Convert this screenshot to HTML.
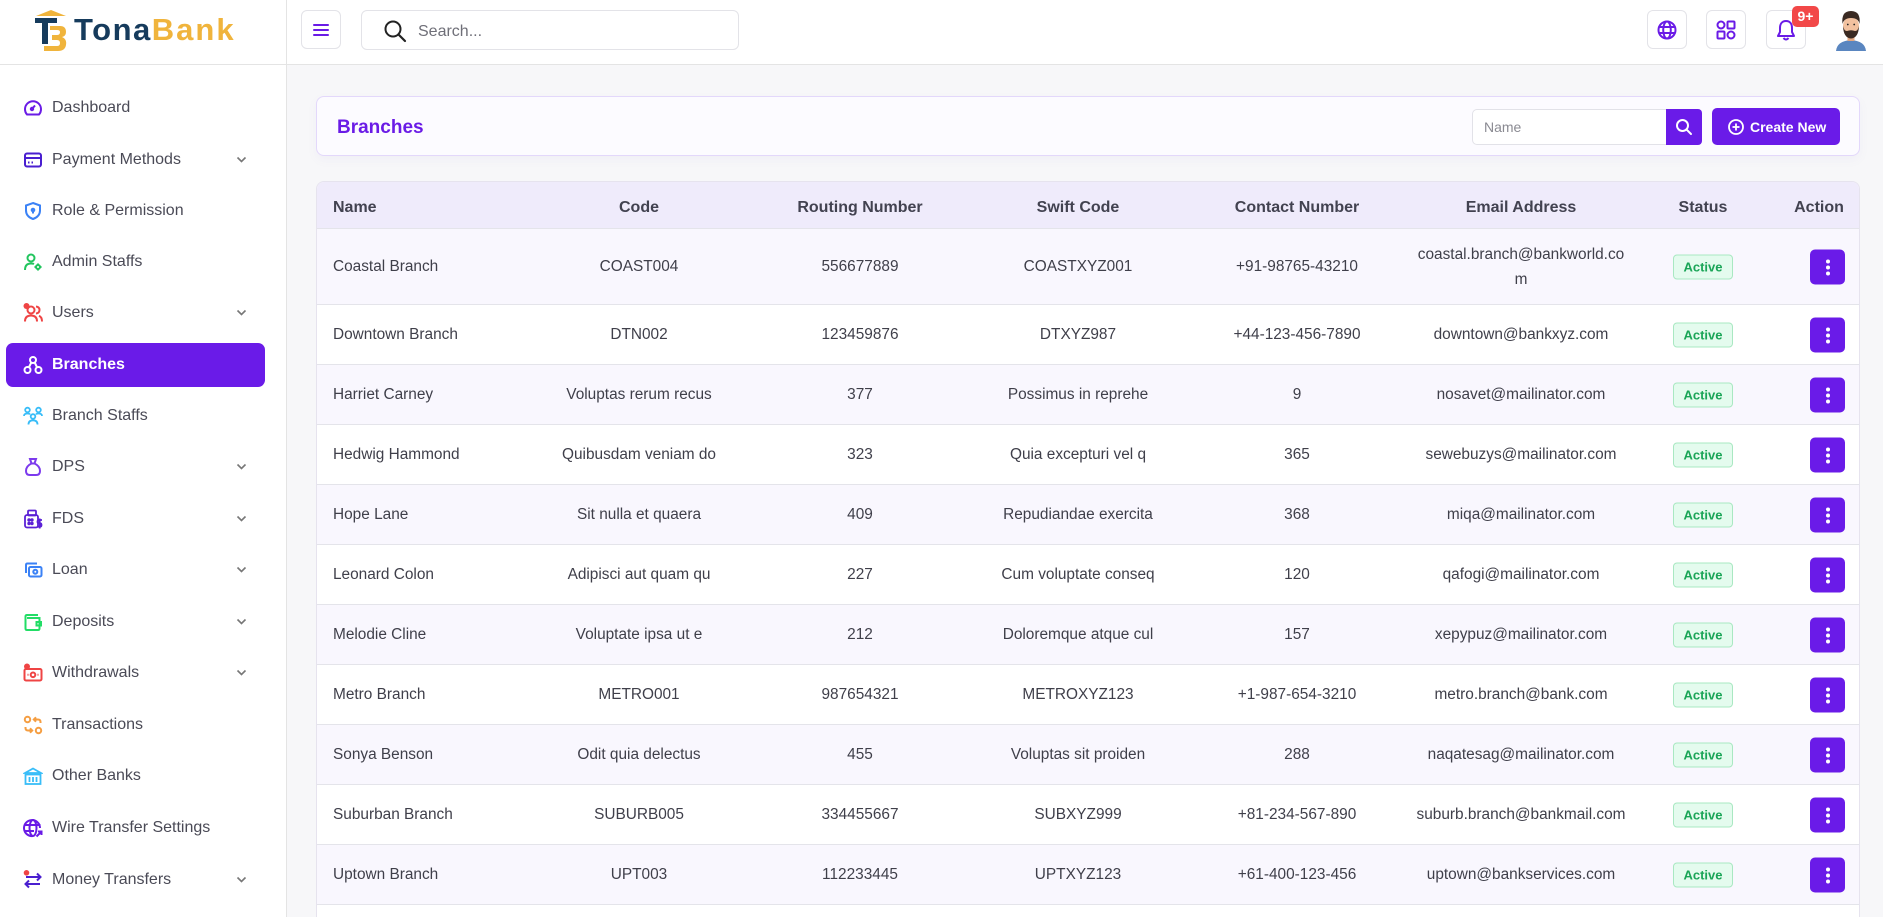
<!DOCTYPE html>
<html><head><meta charset="utf-8">
<style>
*{box-sizing:border-box;margin:0;padding:0}
html{width:1883px;height:917px;overflow:hidden}
body{width:1883px;height:917px;overflow:hidden;position:relative;background:#f7f7f9;font-family:"Liberation Sans",sans-serif;color:#444}
.hdr{position:absolute;left:0;top:0;width:1883px;height:65px;background:#fff;border-bottom:1px solid #e4e4e4;z-index:2}
.side{position:absolute;left:0;top:65px;width:286px;height:852px;background:#fff;z-index:1}
.vline{position:absolute;left:286px;top:0;width:1px;height:917px;background:#e4e4e4;z-index:3}
.ibtn{position:absolute;top:10px;width:40px;height:39px;border:1px solid #e3e3e8;border-radius:6px;background:#fff;display:flex;align-items:center;justify-content:center}
.search{position:absolute;left:361px;top:10px;width:378px;height:40px;border:1px solid #e3e3e8;border-radius:6px;background:#fff}
.search span{position:absolute;left:56px;top:12px;font-size:16px;color:#6f6f78}
.item{position:absolute;left:6px;width:259px;height:44px;display:flex;align-items:center;padding-left:17px;font-size:16px;color:#4a4a56;border-radius:7px}
.item svg{width:20px;height:20px;margin-right:9px;flex:none}
.item .chev{position:absolute;left:230px;top:18px;width:11px;height:8px;margin:0}
.item.act{background:#6a1be8;color:#fff;font-weight:bold}
.card1{position:absolute;left:316px;top:96px;width:1544px;height:60px;border:1px solid #e3d8fb;border-radius:8px;background:#fcfbff;box-shadow:0 4px 10px rgba(120,90,200,0.05)}
.card1 h2{position:absolute;left:20px;top:20px;font-size:19px;color:#6a1be6;font-weight:bold}
.nameinp{position:absolute;left:1155px;top:12px;width:195px;height:36px;border:1px solid #e2e2e8;border-radius:5px 0 0 5px;background:#fff}
.nameinp span{position:absolute;left:11px;top:9px;font-size:14px;color:#8a8a92}
.sbtn{position:absolute;left:1349px;top:12px;width:36px;height:36px;background:#6a1be8;border-radius:0 4px 4px 0;display:flex;align-items:center;justify-content:center}
.cbtn{position:absolute;left:1395px;top:11px;width:128px;height:37px;background:#6a1be8;border-radius:5px;color:#fff;font-size:14px;font-weight:bold;display:flex;align-items:center;padding-left:16px}
.cbtn svg{margin-right:6px}
.tbl{position:absolute;left:316px;top:181px;width:1544px;height:736px;border:1px solid #e6e3ee;border-bottom:0;border-radius:8px 8px 0 0;background:#fff;overflow:hidden}
.row{position:relative;width:100%;height:60px;border-bottom:1px solid #e4e4ea;background:#fff}
.row.alt{background:#f9f7fe}
.row.th{height:47px;background:#efebfb;font-weight:bold;font-size:16px;color:#424250}
.row.r1{height:76px}
.c{position:absolute;top:50%;transform:translate(-50%,-50%);white-space:nowrap;font-size:15.4px;color:#3f3f4a;text-align:center}
.th .c{font-size:16px;color:#424250;margin-top:3px}
.n{position:absolute;left:16px;top:50%;transform:translateY(-50%);white-space:nowrap;font-size:15.4px;color:#3f3f4a}
.th .n{font-size:16px;color:#424250;margin-top:3px}
.b{position:absolute;left:1356px;top:50%;transform:translateY(-50%);width:60px;height:25px;border:1px solid #a9e8c2;background:#e4fbee;border-radius:4px;color:#1aa557;font-size:13px;font-weight:bold;text-align:center;line-height:23px}
.a{position:absolute;left:1493px;top:50%;transform:translateY(-50%);width:35px;height:35px;background:#6a1be8;border-radius:5px}
.a i{position:absolute;left:15.5px;width:4px;height:4px;border-radius:50%;background:#fff}
</style></head><body>

<div class="hdr">
  <svg style="position:absolute;left:32px;top:9px" width="38" height="44" viewBox="0 0 38 44">
    <path d="M4 7 L19 1 L34 7 Z" fill="#f0b43c"/>
    <rect x="3" y="9" width="22" height="5" fill="#163b5c"/>
    <rect x="10" y="9" width="6" height="26" fill="#163b5c"/>
    <path d="M18 17 H28 Q34 17 34 23 Q34 27 30 28 Q35 30 34 36 Q33 42 26 42 H12 V37 H25 Q28 37 28 34 Q28 31 25 31 H20 V26 H25 Q28 26 28 23 Q28 21 25 21 H18 Z" fill="#f0b43c"/>
  </svg>
  <div style="position:absolute;left:74px;top:12px;font-size:31px;font-weight:bold;line-height:36px;white-space:nowrap"><span style="color:#163b5c;letter-spacing:1.5px">Tona</span><span style="color:#f0b43c;letter-spacing:2px">Bank</span></div>

  <div class="ibtn" style="left:301px">
    <svg width="18" height="16" viewBox="0 0 18 16"><rect x="1" y="2" width="16" height="2" rx="1" fill="#6a1be6"/><rect x="1" y="7" width="16" height="2" rx="1" fill="#6a1be6"/><rect x="1" y="12" width="16" height="2" rx="1" fill="#6a1be6"/></svg>
  </div>
  <div class="search">
    <svg style="position:absolute;left:21px;top:8px" width="24" height="24" viewBox="0 0 24 24"><circle cx="10" cy="10" r="7.5" fill="none" stroke="#222" stroke-width="2"/><line x1="15.5" y1="15.5" x2="22" y2="22" stroke="#222" stroke-width="2.2" stroke-linecap="round"/></svg>
    <span>Search...</span>
  </div>

  <div class="ibtn" style="left:1647px">
    <svg width="20" height="20" viewBox="0 0 20 20" fill="none" stroke="#6a1be6" stroke-width="2"><circle cx="10" cy="10" r="8.5"/><ellipse cx="10" cy="10" rx="3.8" ry="8.5"/><line x1="1.5" y1="7" x2="18.5" y2="7"/><line x1="1.5" y1="13" x2="18.5" y2="13"/></svg>
  </div>
  <div class="ibtn" style="left:1706px">
    <svg width="20" height="20" viewBox="0 0 20 20" fill="none" stroke="#6a1be6" stroke-width="2"><circle cx="5" cy="5" r="3.5"/><rect x="11.5" y="1.5" width="7" height="7" rx="1"/><rect x="1.5" y="11.5" width="7" height="7" rx="1"/><circle cx="15" cy="15" r="3.5"/></svg>
  </div>
  <div class="ibtn" style="left:1766px">
    <svg width="20" height="22" viewBox="0 0 20 22" fill="none" stroke="#6a1be6" stroke-width="2" stroke-linejoin="round"><path d="M10 2 C5.5 2 4 5.5 4 9 V13 L2 17 H18 L16 13 V9 C16 5.5 14.5 2 10 2 Z"/><path d="M7.5 19 Q10 22 12.5 19"/></svg>
  </div>
  <div style="position:absolute;left:1792px;top:6px;width:27px;height:21px;background:#f24848;border-radius:5px;color:#fff;font-size:14px;font-weight:bold;text-align:center;line-height:21px">9+</div>
  <svg style="position:absolute;left:1834px;top:9px" width="34" height="42" viewBox="0 0 34 42">
    <path d="M2 42 Q3 32 17 31 Q31 32 32 42 Z" fill="#5a86c0"/>
    <rect x="13.5" y="24" width="7" height="8" fill="#e2a883"/>
    <ellipse cx="17" cy="17" rx="8" ry="9.5" fill="#f2c19f"/>
    <path d="M9 17 Q9.5 29 17 29.5 Q24.5 29 25 17 Q24 22 21 22 Q17 20.5 13 22 Q10 22 9 17 Z" fill="#3a2a22"/>
    <path d="M8.5 15 Q7 2 17 2 Q27 2 25.5 15 Q24.5 9 17 9 Q10 9 8.5 15 Z" fill="#3a2a22"/>
    <circle cx="13.8" cy="15.5" r="0.9" fill="#222"/><circle cx="20.2" cy="15.5" r="0.9" fill="#222"/>
  </svg>
</div>

<div class="vline"></div>

<div class="side">
  <div class="item" style="top:21px"><svg viewBox="0 0 20 20" fill="none" stroke="#6a1be6" stroke-width="2"><path d="M4 16.5 A8 8 0 1 1 16 16.5 Z"/><line x1="8.5" y1="11.5" x2="12" y2="7.5"/><circle cx="9" cy="11" r="1.2" fill="#6a1be6"/></svg>Dashboard</div>
  <div class="item" style="top:73px"><svg viewBox="0 0 20 20" fill="none" stroke="#4a1fd0" stroke-width="2"><rect x="2" y="3.5" width="16" height="13" rx="2"/><line x1="2" y1="8" x2="18" y2="8"/><line x1="5" y1="12.5" x2="6.5" y2="12.5"/><line x1="8.5" y1="12.5" x2="10" y2="12.5"/></svg>Payment Methods<svg class="chev" viewBox="0 0 11 8"><polyline points="1.5,1.5 5.5,5.5 9.5,1.5" fill="none" stroke="#777" stroke-width="1.6"/></svg></div>
  <div class="item" style="top:124px"><svg viewBox="0 0 20 20" fill="none" stroke="#3b82f6" stroke-width="2"><path d="M10 2 L17 4.5 V9.5 Q17 15.5 10 18 Q3 15.5 3 9.5 V4.5 Z"/><circle cx="10" cy="9" r="1.3" fill="#3b82f6"/><line x1="10" y1="10" x2="10" y2="12.5"/></svg>Role &amp; Permission</div>
  <div class="item" style="top:175px"><svg viewBox="0 0 20 20" fill="none" stroke="#22c55e" stroke-width="2"><circle cx="8" cy="6" r="3.5"/><path d="M2 18 Q2 11.5 8 11.5 Q10 11.5 11 12"/><circle cx="15" cy="15" r="2"/><path d="M15 11.5 V12.5 M15 17.5 V18.5 M11.5 15 H12.5 M17.5 15 H18.5"/></svg>Admin Staffs</div>
  <div class="item" style="top:226px"><svg viewBox="0 0 20 20" fill="none" stroke="#ef4444" stroke-width="2"><circle cx="8" cy="7" r="3.5"/><path d="M2 18.5 Q2 12.5 8 12.5 Q14 12.5 14 18.5"/><path d="M13 3.5 Q16.5 4 16.5 7 Q16.5 10 13 10.5"/><path d="M16 12.8 Q19 14 19 18.5"/><circle cx="3.5" cy="3" r="3" fill="#ef4444" stroke="none"/></svg>Users<svg class="chev" viewBox="0 0 11 8"><polyline points="1.5,1.5 5.5,5.5 9.5,1.5" fill="none" stroke="#777" stroke-width="1.6"/></svg></div>
  <div class="item act" style="top:278px"><svg viewBox="0 0 20 20" fill="none" stroke="#fff" stroke-width="2"><circle cx="10" cy="5" r="3"/><circle cx="4.5" cy="15" r="3"/><circle cx="15.5" cy="15" r="3"/><line x1="8.3" y1="7.5" x2="6" y2="12.2"/><line x1="11.7" y1="7.5" x2="14" y2="12.2"/></svg>Branches</div>
  <div class="item" style="top:329px"><svg viewBox="0 0 20 20" fill="none" stroke="#38bdf8" stroke-width="1.8"><circle cx="4.5" cy="4" r="2.3"/><circle cx="15.5" cy="4" r="2.3"/><circle cx="10" cy="10.5" r="2.3"/><path d="M1 10 Q1 7.5 4.5 7.5 Q6.5 7.5 7 8.5 M19 10 Q19 7.5 15.5 7.5 Q13.5 7.5 13 8.5 M5.5 18.5 Q5.5 14.3 10 14.3 Q14.5 14.3 14.5 18.5"/></svg>Branch Staffs</div>
  <div class="item" style="top:380px"><svg viewBox="0 0 20 20" fill="none" stroke="#7c3aed" stroke-width="2"><path d="M7 2 H13 L11.5 6.5 H8.5 Z"/><path d="M8.5 6.5 Q3 9 3 14 Q3 18 7 18 H13 Q17 18 17 14 Q17 9 11.5 6.5"/></svg>DPS<svg class="chev" viewBox="0 0 11 8"><polyline points="1.5,1.5 5.5,5.5 9.5,1.5" fill="none" stroke="#777" stroke-width="1.6"/></svg></div>
  <div class="item" style="top:432px"><svg viewBox="0 0 20 20" fill="none" stroke="#5b21d6" stroke-width="1.8"><rect x="5" y="1.5" width="8" height="5" rx="1"/><rect x="2" y="6" width="13" height="12.5" rx="2"/><circle cx="6" cy="11" r="0.8" fill="#5b21d6"/><circle cx="9" cy="11" r="0.8" fill="#5b21d6"/><circle cx="6" cy="14.5" r="0.8" fill="#5b21d6"/><circle cx="9" cy="14.5" r="0.8" fill="#5b21d6"/><path d="M19 11 H16 Q14.5 11 14.5 12.8 Q14.5 14.3 16 14.3 H17 Q18.5 14.3 18.5 16 Q18.5 17.7 17 17.7 H14.5 M16.7 9.5 V19.5"/></svg>FDS<svg class="chev" viewBox="0 0 11 8"><polyline points="1.5,1.5 5.5,5.5 9.5,1.5" fill="none" stroke="#777" stroke-width="1.6"/></svg></div>
  <div class="item" style="top:483px"><svg viewBox="0 0 20 20" fill="none" stroke="#3b82f6" stroke-width="2"><path d="M3 13 V5 Q3 3.5 4.5 3.5 H14"/><rect x="6" y="7" width="12.5" height="9.5" rx="1.5"/><circle cx="12.3" cy="11.8" r="2"/></svg>Loan<svg class="chev" viewBox="0 0 11 8"><polyline points="1.5,1.5 5.5,5.5 9.5,1.5" fill="none" stroke="#777" stroke-width="1.6"/></svg></div>
  <div class="item" style="top:535px"><svg viewBox="0 0 20 20" fill="none" stroke="#22dd66" stroke-width="2"><path d="M15 3 H4 Q2.5 3 2.5 4.5 V16.5 Q2.5 18 4 18 H15 Q16.5 18 16.5 16.5 V6 H4"/><path d="M18 10 H13.5 V13.5 H18 Z"/></svg>Deposits<svg class="chev" viewBox="0 0 11 8"><polyline points="1.5,1.5 5.5,5.5 9.5,1.5" fill="none" stroke="#777" stroke-width="1.6"/></svg></div>
  <div class="item" style="top:586px"><svg viewBox="0 0 20 20" fill="none" stroke="#ef4444" stroke-width="2"><rect x="1.5" y="6" width="17" height="11.5" rx="1.5"/><circle cx="10" cy="11.8" r="2.3"/><line x1="4.5" y1="11.8" x2="5.5" y2="11.8"/><line x1="14.5" y1="11.8" x2="15.5" y2="11.8"/><circle cx="4" cy="3.5" r="3" fill="#ef4444" stroke="none"/></svg>Withdrawals<svg class="chev" viewBox="0 0 11 8"><polyline points="1.5,1.5 5.5,5.5 9.5,1.5" fill="none" stroke="#777" stroke-width="1.6"/></svg></div>
  <div class="item" style="top:638px"><svg viewBox="0 0 20 20" fill="none" stroke="#f59e42" stroke-width="2"><circle cx="4.5" cy="4.5" r="2.7"/><circle cx="15.5" cy="15.5" r="2.7"/><path d="M17.5 8 V7 Q17.5 4.5 15 4.5 H11 M13 2.3 L10.8 4.5 L13 6.7"/><path d="M2.5 12 V13 Q2.5 15.5 5 15.5 H9 M7 13.3 L9.2 15.5 L7 17.7"/></svg>Transactions</div>
  <div class="item" style="top:689px"><svg viewBox="0 0 20 20" fill="none" stroke="#38bdf8" stroke-width="1.8"><path d="M2 7 L10 2.5 L18 7 Z"/><rect x="2.5" y="8.5" width="15" height="9.5"/><line x1="6.5" y1="11" x2="6.5" y2="16"/><line x1="10" y1="11" x2="10" y2="16"/><line x1="13.5" y1="11" x2="13.5" y2="16"/></svg>Other Banks</div>
  <div class="item" style="top:741px"><svg viewBox="0 0 20 20" fill="none" stroke="#6a1be6" stroke-width="2"><path d="M17 10 A8 8 0 1 0 10 18"/><ellipse cx="10" cy="10" rx="3.5" ry="8"/><line x1="2" y1="7" x2="17.5" y2="7"/><line x1="2" y1="13" x2="11" y2="13"/><path d="M13.5 18.5 L18.5 13.5 M15 13.5 H18.5 V17"/></svg>Wire Transfer Settings</div>
  <div class="item" style="top:793px"><svg viewBox="0 0 20 20" fill="none" stroke="#4a1fd0" stroke-width="2"><path d="M3 7 H17.5 M14 3.5 L17.5 7 L14 10.5"/><path d="M17 14 H2.5 M6 10.5 L2.5 14 L6 17.5"/><circle cx="3.5" cy="2.8" r="2.8" fill="#ef4444" stroke="none"/></svg>Money Transfers<svg class="chev" viewBox="0 0 11 8"><polyline points="1.5,1.5 5.5,5.5 9.5,1.5" fill="none" stroke="#777" stroke-width="1.6"/></svg></div>
</div>

<div class="card1">
  <h2>Branches</h2>
  <div class="nameinp"><span>Name</span></div>
  <div class="sbtn"><svg width="18" height="18" viewBox="0 0 18 18" fill="none" stroke="#fff" stroke-width="2"><circle cx="7.5" cy="7.5" r="5.5"/><line x1="11.7" y1="11.7" x2="16" y2="16" stroke-linecap="round"/></svg></div>
  <div class="cbtn"><svg width="16" height="16" viewBox="0 0 16 16" fill="none" stroke="#fff" stroke-width="1.8"><circle cx="8" cy="8" r="7"/><line x1="8" y1="4.5" x2="8" y2="11.5"/><line x1="4.5" y1="8" x2="11.5" y2="8"/></svg>Create New</div>
</div>

<div class="tbl">
  <div class="row th"><span class="n">Name</span><span class="c" style="left:322px">Code</span><span class="c" style="left:543px">Routing Number</span><span class="c" style="left:761px">Swift Code</span><span class="c" style="left:980px">Contact Number</span><span class="c" style="left:1204px">Email Address</span><span class="c" style="left:1386px">Status</span><span class="c" style="left:1502px">Action</span></div>

  <div class="row r1 alt"><span class="n">Coastal Branch</span><span class="c" style="left:322px">COAST004</span><span class="c" style="left:543px">556677889</span><span class="c" style="left:761px">COASTXYZ001</span><span class="c" style="left:980px">+91-98765-43210</span><span class="c" style="left:1204px;line-height:25px">coastal.branch@bankworld.co<br>m</span><span class="b">Active</span><span class="a"><i style="top:10px"></i><i style="top:16px"></i><i style="top:22px"></i></span></div>

  <div class="row"><span class="n">Downtown Branch</span><span class="c" style="left:322px">DTN002</span><span class="c" style="left:543px">123459876</span><span class="c" style="left:761px">DTXYZ987</span><span class="c" style="left:980px">+44-123-456-7890</span><span class="c" style="left:1204px">downtown@bankxyz.com</span><span class="b">Active</span><span class="a"><i style="top:10px"></i><i style="top:16px"></i><i style="top:22px"></i></span></div>

  <div class="row alt"><span class="n">Harriet Carney</span><span class="c" style="left:322px">Voluptas rerum recus</span><span class="c" style="left:543px">377</span><span class="c" style="left:761px">Possimus in reprehe</span><span class="c" style="left:980px">9</span><span class="c" style="left:1204px">nosavet@mailinator.com</span><span class="b">Active</span><span class="a"><i style="top:10px"></i><i style="top:16px"></i><i style="top:22px"></i></span></div>

  <div class="row"><span class="n">Hedwig Hammond</span><span class="c" style="left:322px">Quibusdam veniam do</span><span class="c" style="left:543px">323</span><span class="c" style="left:761px">Quia excepturi vel q</span><span class="c" style="left:980px">365</span><span class="c" style="left:1204px">sewebuzys@mailinator.com</span><span class="b">Active</span><span class="a"><i style="top:10px"></i><i style="top:16px"></i><i style="top:22px"></i></span></div>

  <div class="row alt"><span class="n">Hope Lane</span><span class="c" style="left:322px">Sit nulla et quaera</span><span class="c" style="left:543px">409</span><span class="c" style="left:761px">Repudiandae exercita</span><span class="c" style="left:980px">368</span><span class="c" style="left:1204px">miqa@mailinator.com</span><span class="b">Active</span><span class="a"><i style="top:10px"></i><i style="top:16px"></i><i style="top:22px"></i></span></div>

  <div class="row"><span class="n">Leonard Colon</span><span class="c" style="left:322px">Adipisci aut quam qu</span><span class="c" style="left:543px">227</span><span class="c" style="left:761px">Cum voluptate conseq</span><span class="c" style="left:980px">120</span><span class="c" style="left:1204px">qafogi@mailinator.com</span><span class="b">Active</span><span class="a"><i style="top:10px"></i><i style="top:16px"></i><i style="top:22px"></i></span></div>

  <div class="row alt"><span class="n">Melodie Cline</span><span class="c" style="left:322px">Voluptate ipsa ut e</span><span class="c" style="left:543px">212</span><span class="c" style="left:761px">Doloremque atque cul</span><span class="c" style="left:980px">157</span><span class="c" style="left:1204px">xepypuz@mailinator.com</span><span class="b">Active</span><span class="a"><i style="top:10px"></i><i style="top:16px"></i><i style="top:22px"></i></span></div>

  <div class="row"><span class="n">Metro Branch</span><span class="c" style="left:322px">METRO001</span><span class="c" style="left:543px">987654321</span><span class="c" style="left:761px">METROXYZ123</span><span class="c" style="left:980px">+1-987-654-3210</span><span class="c" style="left:1204px">metro.branch@bank.com</span><span class="b">Active</span><span class="a"><i style="top:10px"></i><i style="top:16px"></i><i style="top:22px"></i></span></div>

  <div class="row alt"><span class="n">Sonya Benson</span><span class="c" style="left:322px">Odit quia delectus</span><span class="c" style="left:543px">455</span><span class="c" style="left:761px">Voluptas sit proiden</span><span class="c" style="left:980px">288</span><span class="c" style="left:1204px">naqatesag@mailinator.com</span><span class="b">Active</span><span class="a"><i style="top:10px"></i><i style="top:16px"></i><i style="top:22px"></i></span></div>

  <div class="row"><span class="n">Suburban Branch</span><span class="c" style="left:322px">SUBURB005</span><span class="c" style="left:543px">334455667</span><span class="c" style="left:761px">SUBXYZ999</span><span class="c" style="left:980px">+81-234-567-890</span><span class="c" style="left:1204px">suburb.branch@bankmail.com</span><span class="b">Active</span><span class="a"><i style="top:10px"></i><i style="top:16px"></i><i style="top:22px"></i></span></div>

  <div class="row alt"><span class="n">Uptown Branch</span><span class="c" style="left:322px">UPT003</span><span class="c" style="left:543px">112233445</span><span class="c" style="left:761px">UPTXYZ123</span><span class="c" style="left:980px">+61-400-123-456</span><span class="c" style="left:1204px">uptown@bankservices.com</span><span class="b">Active</span><span class="a"><i style="top:10px"></i><i style="top:16px"></i><i style="top:22px"></i></span></div>

  <div class="row" style="border-bottom:0;height:12px"></div>
</div>

</body></html>
